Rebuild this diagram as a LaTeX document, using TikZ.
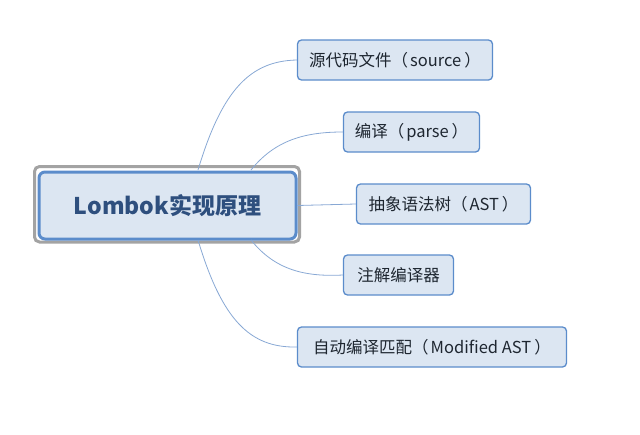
\documentclass[tikz,border=0pt]{standalone}
\usepackage{fontspec}
\setmainfont{Noto Sans CJK SC}
\newcommand{\lpar}{（\hspace{2pt}}
\newcommand{\rpar}{\hspace{3pt}）}
\begin{document}
\begin{tikzpicture}[x=1pt,y=-1pt,
  leaf/.style={draw=boxblue,line width=1.3pt,fill=boxfill,rounded corners=4pt,
    minimum height=40pt,inner sep=0pt,font=\fontsize{16.5}{19}\selectfont,text=textdark},
  conn/.style={draw=linkblue,line width=0.8pt}]
\definecolor{boxblue}{HTML}{5B8CCB}
\definecolor{boxfill}{HTML}{DCE6F2}
\definecolor{textdark}{HTML}{1E2630}
\definecolor{linkblue}{HTML}{88A8D4}
\definecolor{framegray}{HTML}{A3A3A3}
\definecolor{roottext}{HTML}{2E4F7E}
\useasboundingbox (0,0) rectangle (640,434);
% root
\draw[framegray,line width=3pt,rounded corners=5pt] (34.5,166.5) rectangle (299.5,242);
\node[draw=boxblue,line width=3pt,fill=boxfill,rounded corners=6pt,
  minimum width=257pt,minimum height=67pt,inner sep=0pt,
  font=\bfseries\fontsize{23}{26}\selectfont,text=roottext] (root) at (167.5,205.5) {Lombok实现原理};
% leaves
\node[leaf,minimum width=195pt] (n1) at (395,60) {源代码文件\lpar source\rpar};
\node[leaf,minimum width=136pt] (n2) at (411.5,132) {编译\lpar parse\rpar};
\node[leaf,minimum width=174pt] (n3) at (443.5,204) {抽象语法树\lpar AST\rpar};
\node[leaf,minimum width=110pt] (n4) at (398.5,275) {注解编译器};
\node[leaf,minimum width=269pt] (n5) at (432,347) {自动编译匹配\lpar Modified AST\rpar};
% connectors
\coordinate (r1) at (198,170);
\coordinate (r2) at (251,170);
\coordinate (r4) at (251,240);
\coordinate (r5) at (198,240);
\draw[conn] (r1) .. controls (222,90) and (250,61) .. (n1.west);
\draw[conn] (r2) .. controls (275,140) and (305,132) .. (n2.west);
\draw[conn] (root.east) -- (n3.west);
\draw[conn] (r4) .. controls (275,270) and (305,277) .. (n4.west);
\draw[conn] (r5) .. controls (222,320) and (250,348) .. (n5.west);
\end{tikzpicture}
\end{document}
